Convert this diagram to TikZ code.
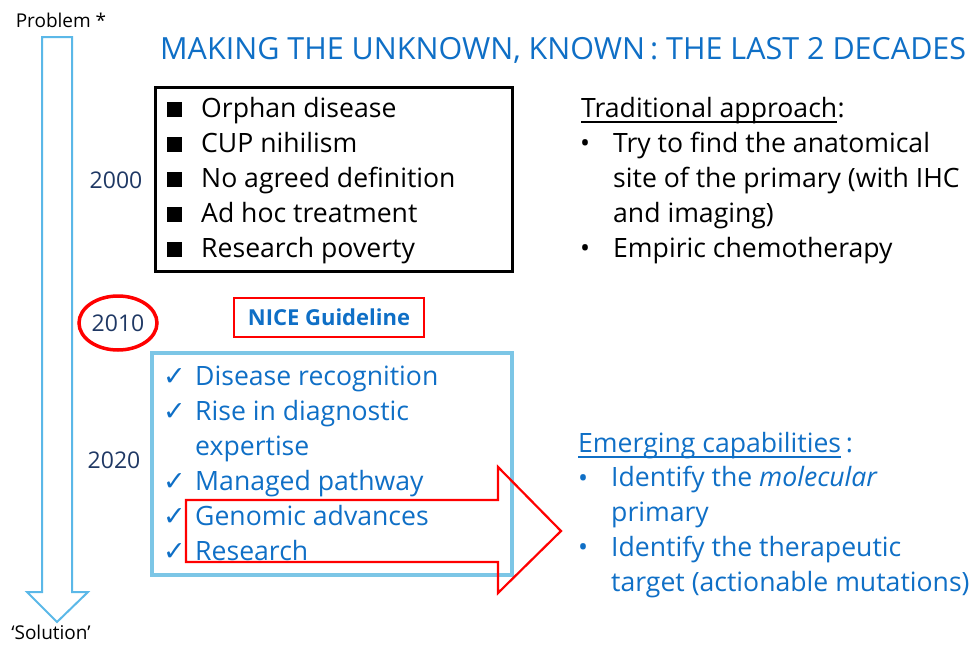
\documentclass[tikz,border=0pt]{standalone}
\usepackage{fontspec}
\setmainfont{Open Sans}
\newfontfamily\symfont{DejaVu Sans}
\usetikzlibrary{shapes.geometric,calc}
\definecolor{inkblue}{HTML}{0F6FC6}
\definecolor{navy}{HTML}{1F3864}
\definecolor{skyline}{HTML}{5BB8E8}
\definecolor{boxsky}{HTML}{7CC6E6}
\definecolor{alertred}{HTML}{FF0000}
\begin{document}
\begin{tikzpicture}[x=1pt,y=-1pt,
  body/.style={font=\fontsize{26.6}{35}\selectfont, inner sep=0pt, anchor=base west, align=left},
  year/.style={font=\fontsize{23}{27}\selectfont, text=navy, inner sep=0pt},
  small/.style={font=\fontsize{19}{23}\selectfont, inner sep=0pt},
  sqbullet/.style={fill=black, minimum size=15pt, inner sep=0pt, anchor=south west},
  tick/.style={font=\symfont\fontsize{27}{30}\selectfont, text=inkblue, inner sep=0pt, anchor=base west},
  dot/.style={font=\fontsize{26.6}{35}\selectfont, inner sep=0pt, anchor=base west},
  uline/.style={line width=1.4pt}]
\useasboundingbox (0,0) rectangle (975,645);

% timeline arrow
\node[small, anchor=center] (problem) at (61,20) {Problem\ *};
\node[small, anchor=base] (solution) at (51,639) {‘Solution’};
\draw[skyline, line width=2pt, line join=miter]
  (42,37) -- (72,37) -- (72,592) -- (88,592) -- (57,622) -- (27,592) -- (42,592) -- cycle;

% title
\node[font=\fontsize{30.5}{34}\selectfont, text=inkblue, inner sep=0pt, anchor=base west] (title) at (160,59)
  {MAKING THE UNKNOWN, KNOWN\,: THE LAST 2 DECADES};

% years
\node[year] (y2000) at (116,180) {2000};
\node[year] (y2010) at (118,323) {2010};
\node[year] (y2020) at (114,460) {2020};
\draw[alertred, line width=3.5pt] (y2010.center) ellipse [x radius=39, y radius=27];

% 2000 box
\draw[black, line width=3pt] (155,87) rectangle (512,271);
\foreach \t [count=\i] in {Orphan disease, CUP nihilism, No agreed definition, Ad hoc treatment, Research poverty} {
  \node[sqbullet] (sq\i) at (167,117+35*\i-35) {};
  \node[body] (old\i) at (201,117+35*\i-35) {\t};
}

% NICE guideline
\node[draw=alertred, line width=2pt, font=\bfseries\fontsize{22}{25}\selectfont, text=inkblue,
  minimum width=190pt, minimum height=39pt, inner sep=0pt] (nice) at (329,317) {NICE Guideline};

% 2020 box (multi-line nodes sit on the baseline of their last line)
\draw[boxsky, line width=4pt] (152,353) rectangle (512,575);
\node[tick] (t1) at (163,385) {✓};
\node[body, text=inkblue] (new1) at (195,385) {Disease recognition};
\node[tick] (t2) at (163,420) {✓};
\node[body, text=inkblue] (new2) at (195,455) {Rise in diagnostic\\expertise};
\node[tick] (t3) at (163,490) {✓};
\node[body, text=inkblue] (new3) at (195,490) {Managed pathway};
\node[tick] (t4) at (163,525) {✓};
\node[body, text=inkblue] (new4) at (195,525) {Genomic advances};
\node[tick] (t5) at (163,560) {✓};
\node[body, text=inkblue] (new5) at (195,560) {Research};

% red block arrow
\draw[alertred, line width=2.2pt, line join=miter]
  (186,500) -- (498,500) -- (498,467) -- (561,531) -- (498,593) -- (498,562) -- (186,562) -- cycle;

% traditional approach
\node[body] (trad) at (581,117) {Traditional approach};
\node[body] (tradcolon) at (trad.base east) {:};
\draw[uline] ($(trad.base west)+(0,5)$) -- ($(trad.base east)+(0,5)$);
\node[dot] (tb1) at (580,152) {•};
\node[body] (tr1) at (613,222) {Try to find the anatomical\\site of the primary (with IHC\\and imaging)};
\node[dot] (tb2) at (580,257) {•};
\node[body] (tr2) at (613,257) {Empiric chemotherapy};

% emerging capabilities
\node[body, text=inkblue] (emer) at (578,452) {Emerging capabilities};
\node[body, text=inkblue] (emercolon) at (emer.base east) {\,:};
\draw[uline, inkblue] ($(emer.base west)+(0,5)$) -- ($(emer.base east)+(0,5)$);
\node[dot, text=inkblue] (eb1) at (578,487) {•};
\node[body, text=inkblue] (em1) at (611,521) {Identify the \textit{molecular}\\primary};
\node[dot, text=inkblue] (eb2) at (578,556) {•};
\node[body, text=inkblue] (em2) at (611,591) {Identify the therapeutic\\target (actionable mutations)};
\end{tikzpicture}
\end{document}
